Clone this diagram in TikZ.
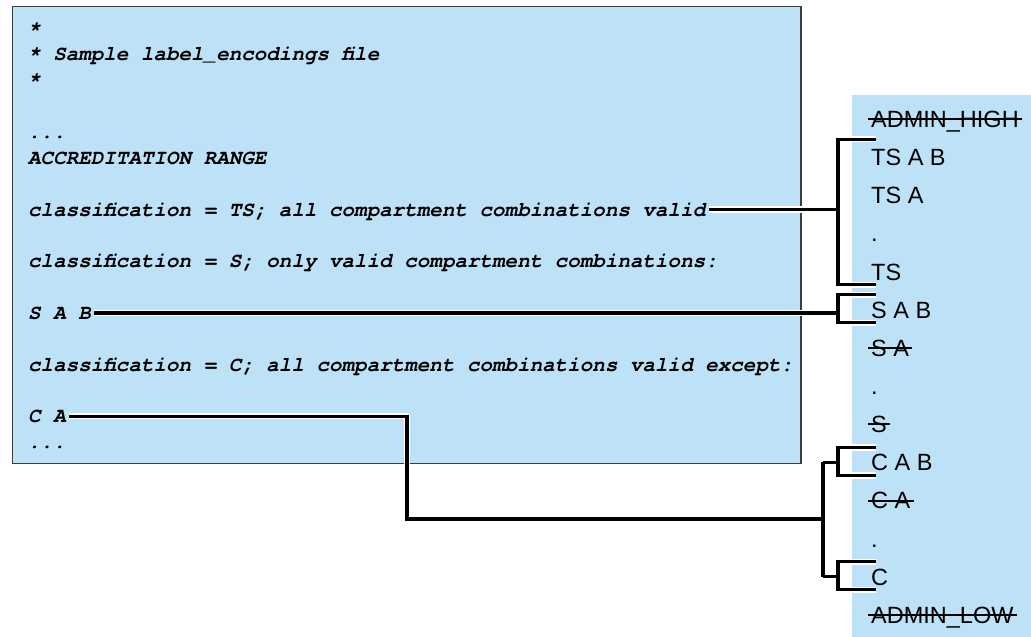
\documentclass[tikz,border=0pt]{standalone}
\usepackage{fontspec}
\setmainfont{Liberation Sans}
\newfontfamily\codefont{texgyrecursor-bolditalic.otf}
\usepackage{tikz}
\usepackage{xcolor}
\definecolor{paneBlue}{RGB}{189,225,246}
\definecolor{paneEdge}{RGB}{60,60,60}

\begin{document}
\begin{tikzpicture}[
    x=1pt,y=-1pt,
    code/.style={%
      anchor=base west,
      inner xsep=3pt,
      inner ysep=0pt,
      text height=13pt,
      text depth=0pt,
      font=\codefont\fontsize{20.9}{24}\selectfont,
    },
    item/.style={%
      anchor=west,
      inner xsep=3pt,
      inner ysep=0pt,
      text height=16.8pt,
      text depth=0pt,
      font=\fontsize{23.5}{28}\selectfont,
    },
    strike/.style={%
      draw,
      line width=2pt,
    },
    conn/.style={%
      line width=3.2pt,
      line join=miter,
      preaction={draw=white,line width=6.2pt},
    },
  ]

    \useasboundingbox (0,0) rectangle (1031,637);
    \fill [paneBlue] (852,95) rectangle (1031,637);
    \draw [fill=paneBlue,draw=paneEdge,line width=1.5pt] (12.5,6.5) rectangle (801,463.5);

    % label_encodings excerpt
    \node [code] (star1) at (25,35) {*};
    \node [code] (head) at (25,60.9) {* Sample label\_encodings file};
    \node [code] (star2) at (25,86.7) {*};
    \node [code] (dots1) at (25,138.4) {...};
    \node [code] (range) at (25,164.3) {ACCREDITATION RANGE};
    \node [code] (tsline) at (25,216) {classification = TS; all compartment combinations valid};
    \node [code] (sline) at (25,267.7) {classification = S; only valid compartment combinations:};
    \node [code] (sabline) at (25,319.4) {S A B};
    \node [code] (cline) at (25,371.1) {classification = C; all compartment combinations valid except:};
    \node [code] (caline) at (25,422.8) {C A};
    \node [code] (dots2) at (25,448.6) {...};

    % resulting labels
    \node [item] (ahigh) at (868,119) {ADMIN\_HIGH};
    \node [item] (tsab) at (868,157.2) {TS A B};
    \node [item] (tsa) at (868,195.3) {TS A};
    \node [item] (tsdot) at (868,233.5) {.};
    \node [item] (ts) at (868,271.6) {TS};
    \node [item] (sab) at (868,309.8) {S A B};
    \node [item] (sa) at (868,347.9) {S A};
    \node [item] (sdot) at (868,386.1) {.};
    \node [item] (s) at (868,424.2) {S};
    \node [item] (cab) at (868,462.4) {C A B};
    \node [item] (ca) at (868,500.5) {C A};
    \node [item] (cdot) at (868,538.7) {.};
    \node [item] (c) at (868,576.8) {C};
    \node [item] (alow) at (868,615) {ADMIN\_LOW};

    \draw [strike] (ahigh.west) -- (ahigh.east);
    \draw [strike] (sa.west) -- (sa.east);
    \draw [strike] (s.west) -- (s.east);
    \draw [strike] (ca.west) -- (ca.east);
    \draw [strike] (alow.west) -- (alow.east);

    \coordinate (tsbar) at (838,212);
    \coordinate (sabbar) at (838,309.8);
    \coordinate (cabbar) at (838,462.4);
    \coordinate (cbar) at (838,576.8);
    \coordinate (cdrop) at (407,519);
    \coordinate (cjoin) at (823,519);

    \draw [conn] (tsline.east) -- (tsline.east -| tsbar)
      ([xshift=8pt,yshift=18pt]tsab.west) -| (tsbar) |- ([xshift=8pt,yshift=-13pt]ts.west);
    \draw [conn] (sabline.east) -- (sabline.east -| sabbar)
      ([xshift=8pt,yshift=15pt]sab.west) -| (sabbar) |- ([xshift=8pt,yshift=-13pt]sab.west);
    \draw [conn] (caline.east) -| (cdrop) -- (cjoin)
      (cjoin |- cabbar) -- (cjoin |- cbar)
      (cjoin |- cabbar) -- (cabbar) (cjoin |- cbar) -- (cbar)
      ([xshift=8pt,yshift=15pt]cab.west) -| (cabbar) |- ([xshift=8pt,yshift=-13pt]cab.west)
      ([xshift=8pt,yshift=15pt]c.west) -| (cbar) |- ([xshift=8pt,yshift=-13pt]c.west);
\end{tikzpicture}
\end{document}
